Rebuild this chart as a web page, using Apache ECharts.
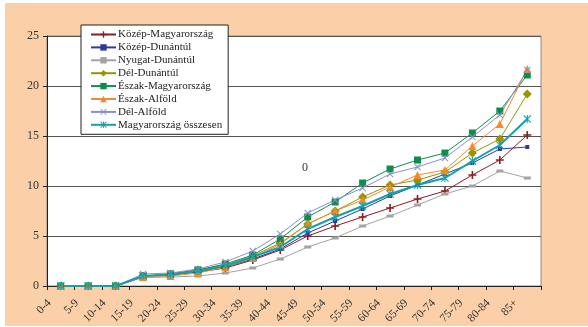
<!DOCTYPE html>
<html>
<head>
<meta charset="utf-8">
<script src="https://cdn.jsdelivr.net/npm/echarts@6/dist/echarts.min.js"></script>
<style>
  html, body { margin: 0; padding: 0; background: #fff; }
  #chart { width: 588px; height: 327px; }
</style>
</head>
<body>
<div id="chart"></div>
<script>
// korcsoportok
const ageGroups = ['0-4', '5-9', '10-14', '15-19', '20-24', '25-29', '30-34', '35-39', '40-44',
  '45-49', '50-54', '55-59', '60-64', '65-69', '70-74', '75-79', '80-84', '85+']

// régiók értékei
const kozepMagyarorszag = [0, 0, 0, 1.0, 1.1, 1.4, 1.8, 2.6, 3.6, 5.0, 6.0, 6.9, 7.8, 8.7, 9.5, 11.1, 12.6, 15.1]
const kozepDunantul = [0, 0, 0, 1.0, 1.1, 1.5, 1.9, 2.7, 3.7, 5.3, 6.5, 7.7, 9.0, 10.1, 11.2, 12.3, 13.7, 13.9]
const nyugatDunantul = [0, 0, 0, 0.85, 0.9, 1.0, 1.3, 1.8, 2.7, 3.9, 4.8, 6.0, 7.0, 8.1, 9.2, 10.0, 11.5, 10.8]
const delDunantul = [0, 0, 0, 0.95, 1.2, 1.6, 2.1, 3.0, 4.3, 6.2, 7.5, 8.9, 10.1, 10.6, 11.4, 13.3, 14.7, 19.2]
const eszakMagyarorszag = [0, 0, 0, 1.0, 1.2, 1.6, 2.2, 3.1, 4.7, 6.9, 8.4, 10.3, 11.7, 12.6, 13.3, 15.3, 17.5, 21.1]
const eszakAlfold = [0, 0, 0, 0.9, 1.0, 1.3, 1.9, 2.8, 4.2, 6.2, 7.5, 8.6, 9.9, 11.1, 11.6, 14.0, 16.2, 21.7]
const delAlfold = [0, 0, 0, 1.2, 1.3, 1.7, 2.4, 3.5, 5.2, 7.3, 8.6, 9.8, 11.2, 11.9, 12.8, 14.9, 17.1, 21.6]
const osszesen = [0, 0, 0, 1.0, 1.15, 1.5, 2.0, 2.9, 3.9, 5.7, 6.9, 8.0, 9.2, 10.1, 10.8, 12.5, 14.1, 16.7]

// jelölők
const plusPath = 'path://M4,0h2v4h4v2h-4v4h-2v-4h-4v-2h4z'
const xPath = 'path://M1,0L5,4L9,0L10,1L6,5L10,9L9,10L5,6L1,10L0,9L4,5L0,1z'
const starPath = 'path://M1,0L5,4L9,0L10,1L6,5L10,9L9,10L5,6L1,10L0,9L4,5L0,1z M4.3,0h1.4v10h-1.4z'

const font = 'Liberation Serif'

function makeSeries(name, data, color, symbol, size, width) {
  return {
    name: name,
    type: 'line',
    data: data,
    symbol: symbol,
    symbolSize: size,
    showSymbol: true,
    lineStyle: { color: color, width: width || 1 },
    itemStyle: { color: color },
    emphasis: { disabled: true },
    animation: false
  }
}

const chart = echarts.init(document.getElementById('chart'), null, { renderer: 'canvas' })

chart.setOption({
  backgroundColor: '#fff',
  animation: false,
  graphic: [
    {
      type: 'rect',
      z: -10,
      silent: true,
      shape: { x: 5, y: 3, width: 583, height: 323 },
      style: { fill: '#fbd0a9' }
    },
    {
      type: 'text',
      left: 302,
      top: 162,
      z: 10,
      style: { text: '0', font: '12px "Liberation Serif"', fill: '#333' }
    }
  ],
  grid: {
    left: 47,
    right: 47,
    top: 36,
    bottom: 41,
    show: true,
    backgroundColor: '#fff',
    borderColor: '#8a8a8a',
    borderWidth: 1
  },
  legend: {
    orient: 'vertical',
    left: 81,
    top: 25,
    width: 143,
    padding: [4, 6, 4, 9],
    backgroundColor: '#fff',
    borderColor: '#222',
    borderWidth: 1,
    itemWidth: 25,
    itemHeight: 8,
    itemGap: 1.9,
    textStyle: { fontFamily: font, fontSize: 11, color: '#222', padding: [0, 0, 0, -3], lineHeight: 11 },
    data: ['Közép-Magyarország', 'Közép-Dunántúl', 'Nyugat-Dunántúl', 'Dél-Dunántúl',
      'Észak-Magyarország', 'Észak-Alföld', 'Dél-Alföld', 'Magyarország összesen']
  },
  xAxis: {
    type: 'category',
    data: ageGroups,
    boundaryGap: true,
    axisLine: { lineStyle: { color: '#222', width: 1 } },
    axisTick: { show: true, length: 4, lineStyle: { color: '#222' } },
    axisLabel: {
      rotate: 45, fontFamily: font, fontSize: 11.5, color: '#333',
      margin: 4, interval: 0, padding: [0, 16, 0, 0]
    },
    splitLine: { show: false }
  },
  yAxis: {
    type: 'value',
    min: 0,
    max: 25,
    interval: 5,
    axisLine: { show: true, lineStyle: { color: '#222' } },
    axisTick: { show: true, length: 4, lineStyle: { color: '#222' } },
    axisLabel: { fontFamily: font, fontSize: 12, color: '#333', margin: 8 },
    splitLine: { show: true, lineStyle: { color: '#555', width: 1 } }
  },
  series: [
    makeSeries('Közép-Magyarország', kozepMagyarorszag, '#8c1c24', plusPath, 8),
    makeSeries('Közép-Dunántúl', kozepDunantul, '#2b3b9c', 'rect', 4),
    makeSeries('Nyugat-Dunántúl', nyugatDunantul, '#a3a3a3', 'rect', [7, 3]),
    makeSeries('Dél-Dunántúl', delDunantul, '#9a9400', 'diamond', 9),
    makeSeries('Észak-Magyarország', eszakMagyarorszag, '#0f8c4c', 'rect', 7),
    makeSeries('Észak-Alföld', eszakAlfold, '#f58a2c', 'triangle', 8),
    makeSeries('Dél-Alföld', delAlfold, '#8a90c8', xPath, 7),
    makeSeries('Magyarország összesen', osszesen, '#14a0ae', starPath, 8, 2)
  ]
})
</script>
</body>
</html>
